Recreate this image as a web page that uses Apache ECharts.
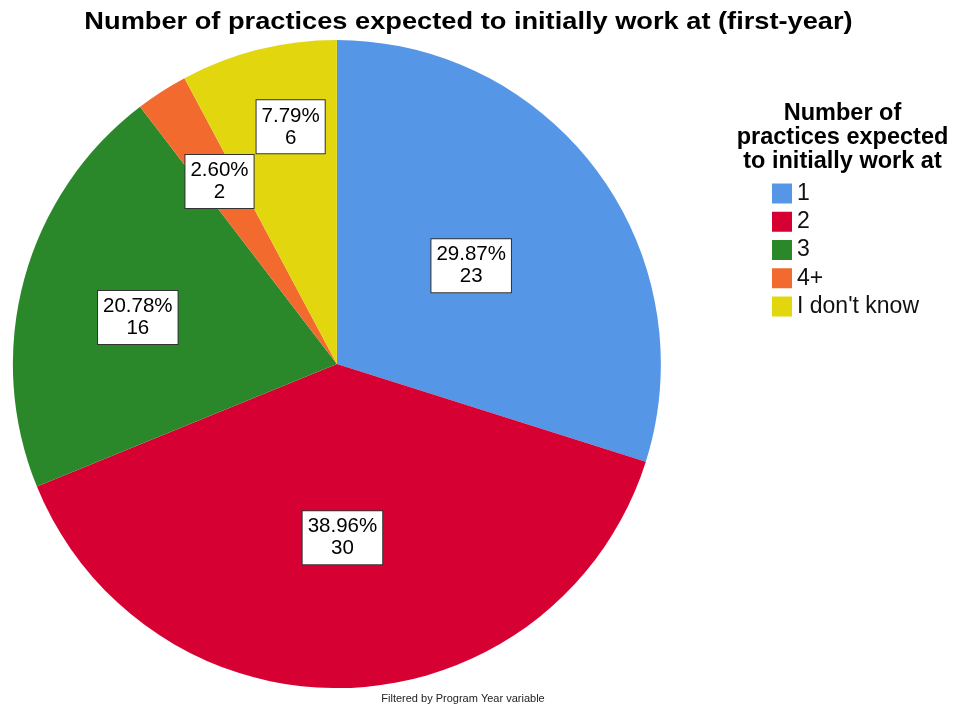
<!DOCTYPE html>
<html>
<head>
<meta charset="utf-8">
<script src="https://cdn.jsdelivr.net/npm/echarts@6/dist/echarts.min.js"></script>
<style>
  html, body { margin: 0; padding: 0; background: #fff; }
  #chart { width: 957px; height: 707px; }
</style>
</head>
<body>
<div id="chart"></div>
<script>
// Response categories and counts
const categories = ['1', '2', '3', '4+', "I don't know"];
const counts = [23, 30, 16, 2, 6];
const colors = ['#5596e6', '#d60032', '#2a882a', '#f26a2d', '#e2d70f'];

// Label box placement: distance from centre (fraction of radius) and
// a small angular nudge (degrees) off each slice's mid-angle
const labelRadius = [0.514, 0.536, 0.631, 0.67, 0.746];
const labelNudgeDeg = [0, 0.5, -2, 0, 3];

const total = counts.reduce((a, b) => a + b, 0);
const FONT = '"Liberation Sans", Arial, sans-serif';

const chart = echarts.init(document.getElementById('chart'), null, { renderer: 'canvas' });

const CENTER = ['35.2%', '51.5%'];
const RADIUS_PX = 324;

// Mid-angle of each slice (clockwise from 12 o'clock)
const midAngles = [];
let acc = 0;
counts.forEach(v => {
  midAngles.push((acc + v / 2) / total * 2 * Math.PI);
  acc += v;
});

chart.setOption({
  backgroundColor: '#ffffff',
  animation: false,
  graphic: [
    {
      type: 'text',
      x: 468.5,
      y: 22,
      scaleX: 1.134,
      style: {
        text: 'Number of practices expected to initially work at (first-year)',
        x: 0, y: 0,
        textAlign: 'center',
        textVerticalAlign: 'middle',
        font: 'bold 24px ' + FONT,
        fill: '#000'
      }
    }
  ],
  title: [
    {
      text: 'Number of\npractices expected\nto initially work at',
      left: 842.5,
      top: 102,
      padding: 0,
      textAlign: 'center',
      textStyle: { fontFamily: FONT, fontWeight: 'bold', fontSize: 23.5, lineHeight: 24, color: '#000' }
    },
    {
      text: 'Filtered by Program Year variable',
      left: 463,
      top: 693,
      padding: 0,
      textAlign: 'center',
      textStyle: { fontFamily: FONT, fontWeight: 'normal', fontSize: 11, color: '#222' }
    }
  ],
  legend: {
    orient: 'vertical',
    left: 772,
    top: 182,
    padding: 0,
    itemWidth: 20,
    itemHeight: 20,
    itemGap: 5.25,
    icon: 'rect',
    selectedMode: false,
    data: categories,
    textStyle: { fontFamily: FONT, fontSize: 23, color: '#111' }
  },
  series: [{
    type: 'pie',
    center: CENTER,
    radius: RADIUS_PX,
    startAngle: 90,
    clockwise: true,
    avoidLabelOverlap: false,
    data: categories.map((c, i) => ({ name: c, value: counts[i], itemStyle: { color: colors[i] } })),
    itemStyle: { borderWidth: 0 },
    label: {
      show: true,
      position: 'inside',
      formatter: p => (p.value / total * 100).toFixed(2) + '%\n' + p.value,
      fontFamily: FONT,
      fontSize: 20.5,
      lineHeight: 22,
      color: '#000',
      backgroundColor: '#fff',
      borderColor: '#333',
      borderWidth: 1,
      padding: [5, 5, 4, 5],
      align: 'center',
      verticalAlign: 'middle'
    },
    labelLine: { show: false },
    emphasis: { disabled: true },
    labelLayout: p => {
      const w = chart.getWidth(), h = chart.getHeight();
      const cx = parseFloat(CENTER[0]) / 100 * w;
      const cy = parseFloat(CENTER[1]) / 100 * h;
      const r = RADIUS_PX * labelRadius[p.dataIndex];
      const a = midAngles[p.dataIndex] + labelNudgeDeg[p.dataIndex] * Math.PI / 180;
      return { x: cx + r * Math.sin(a), y: cy - r * Math.cos(a), align: 'center', verticalAlign: 'middle' };
    }
  }]
});
</script>
</body>
</html>
